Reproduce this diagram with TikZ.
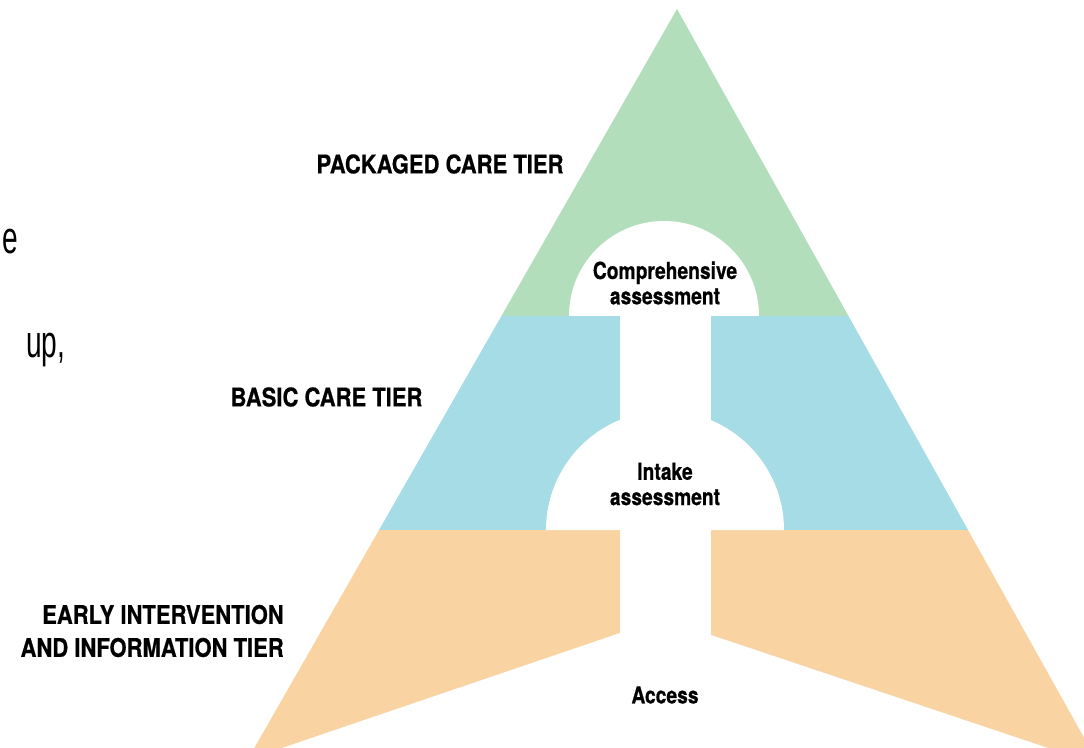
\documentclass[tikz,border=0pt]{standalone}
\usepackage{fontspec}
\setmainfont{Liberation Sans}
\newfontfamily\tierfont[FakeStretch=0.855, BoldFeatures={FakeBold=0.6}]{TeX Gyre Heros}
\newfontfamily\stagefont[FakeStretch=0.82, BoldFeatures={FakeBold=0.6}]{TeX Gyre Heros}
\newfontfamily\slidefont[FakeStretch=0.62]{Liberation Sans}
\definecolor{packgreen}{RGB}{178,222,187}
\definecolor{basicblue}{RGB}{165,220,230}
\definecolor{earlyorange}{RGB}{250,211,163}
\tikzset{
  tier/.style={font=\tierfont\bfseries\fontsize{19.3}{24.75}\selectfont, align=right, inner sep=0pt},
  stage/.style={font=\stagefont\bfseries\fontsize{17.6}{19}\selectfont, align=center, inner sep=0pt},
  slide/.style={font=\slidefont\fontsize{34}{40}\selectfont, inner sep=0pt}
}
\begin{document}
\begin{tikzpicture}[x=0.75pt,y=-0.75pt]
            \useasboundingbox (0,0) rectangle (1084,748);
            \clip (0,0) rectangle (1084,748);
            % the three tiers
            \begin{scope}
                \clip (677,9) -- (254.3,748) -- (1089.8,748) -- cycle;
                \fill[packgreen] (0,0) rectangle (1084,316);
                \fill[basicblue] (0,316) rectangle (1084,530);
                \fill[earlyorange] (0,530) rectangle (1084,748);
            \end{scope}
            % the way through
            \fill[white] (569,316) arc[start angle=180, end angle=360, radius=95] -- cycle;
            \fill[white] (620,316) rectangle (711,640);
            \fill[white] (546,530) arc[start angle=180, end angle=360, radius=119] -- cycle;
            \fill[white] (620,633) -- (217.3,770) -- (1113.6,770) -- (711,635) -- cycle;
            % labels
            \draw (440,164) node[tier] (packaged) {PACKAGED CARE TIER};
            \draw (326.5,397) node[tier] (basic) {BASIC CARE TIER};
            \draw (284,631) node[tier, anchor=east] (early) {EARLY INTERVENTION\\AND INFORMATION TIER};
            \draw (665,283) node[stage] (comprehensive) {Comprehensive\\assessment};
            \draw (665,484) node[stage] (intake) {Intake\\assessment};
            \draw (665,695) node[stage] (access) {Access};
            \draw (18,254) node[slide, anchor=base east] (cutE) {e};
            \draw (26,357) node[slide, anchor=base west] (cutUp) {up,};
\end{tikzpicture}
\end{document}
